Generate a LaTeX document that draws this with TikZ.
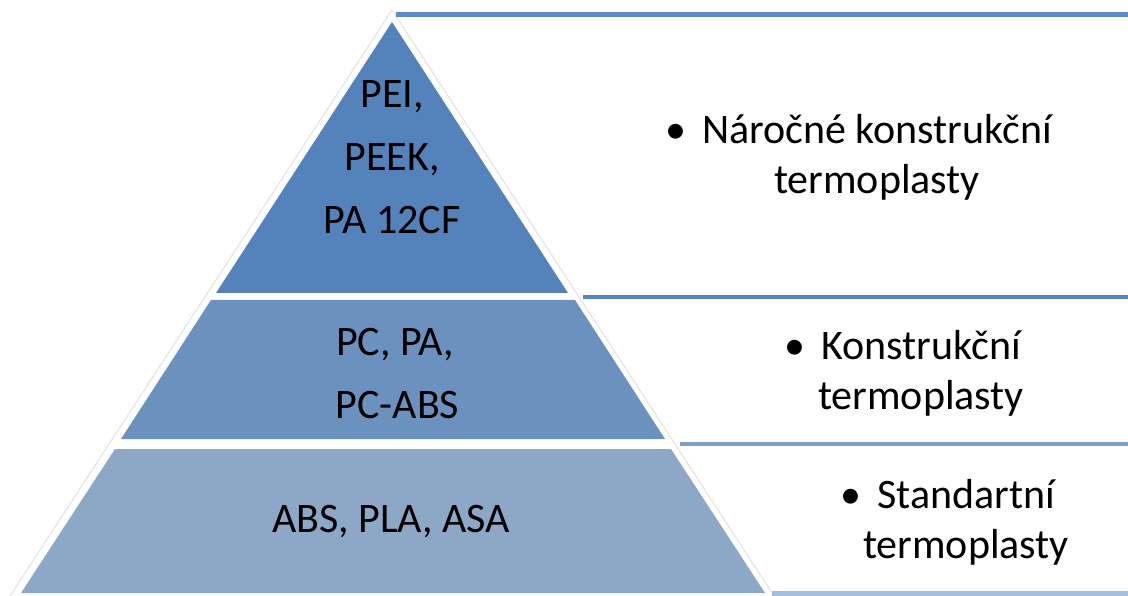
\documentclass[tikz,border=0pt]{standalone}
\usepackage{fontspec}
\setmainfont{Carlito}
\usetikzlibrary{positioning,calc}
\definecolor{topblue}{RGB}{84,130,186}
\definecolor{midblue}{RGB}{107,145,191}
\definecolor{lowblue}{RGB}{141,167,198}
\definecolor{ruletop}{RGB}{93,139,198}
\definecolor{rulemid}{RGB}{88,132,190}
\definecolor{rulelow}{RGB}{125,160,205}
\definecolor{rulebase}{RGB}{165,190,222}
\newcommand{\blt}{\llap{\textbullet\hspace{0.38em}}}

\begin{document}
\begin{tikzpicture}[x=1pt,y=-1pt,
	lbl/.style={align=center,font=\fontsize{42}{63}\selectfont},
	side/.style={align=center,font=\fontsize{42}{50}\selectfont},
	rule/.style={line width=4.5pt}]
		\useasboundingbox (0,0) rectangle (1128,596);
		% faint edge of the white frame
		\draw[black!10, line width=1.2pt] (10,596) -- (392,10) -- (774,596);
		% the three layers
		\fill[topblue] (392,22) -- (216,293) -- (568,293) -- cycle;
		\fill[midblue] (211,300) -- (121,439) -- (665,439) -- (575,300) -- cycle;
		\fill[lowblue] (115,449) -- (21,593) -- (765,593) -- (671,449) -- cycle;
		% rules on the right
		\draw[rule, ruletop] (396,14.5) -- (1128,14.5);
		\draw[rule, rulemid] (583,297) -- (1128,297);
		\draw[rule, rulelow] (680,444) -- (1128,444);
		\draw[rule, rulebase] (772,593.5) -- (1128,593.5);
		% labels
		\node[lbl] (hightier) at (392,157) {PEI,\\PEEK,\\PA 12CF};
		\node[lbl] (midtier) at (395,374) {PC, PA,\\\hspace{5pt}PC-ABS};
		\node[lbl] (lowtier) at (391,522) {ABS, PLA, ASA};
		\node[side] (hardtxt) at (877,157) {\blt Náročné konstrukční\\termoplasty};
		\node[side] (engtxt) at (921,373) {\blt Konstrukční\\termoplasty};
		\node[side] (stdtxt) at (966,522) {\blt Standartní\\termoplasty};
	\end{tikzpicture}
\end{document}
